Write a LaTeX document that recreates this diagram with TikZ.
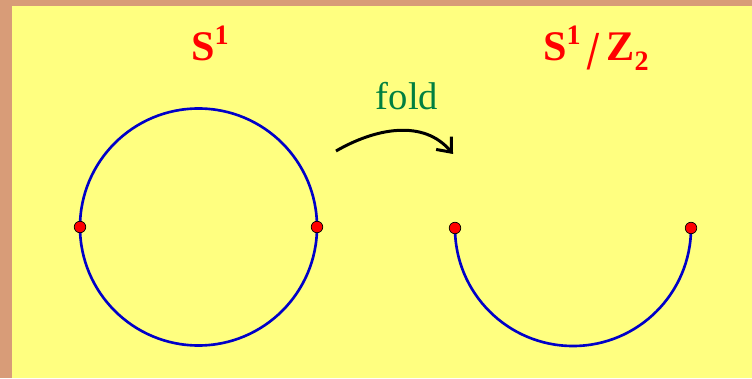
\documentclass[tikz,border=0pt]{standalone}
\usepackage{fontspec}
\setmainfont{Liberation Serif}
\usetikzlibrary{arrows.meta}
\definecolor{tanedge}{HTML}{D89C78}
\definecolor{paper}{HTML}{FFFF80}
\definecolor{circblue}{HTML}{0000C8}
\definecolor{foldgreen}{HTML}{008040}
\newcommand{\upone}[1]{\raisebox{0.4em}{\fontsize{16}{18}\selectfont #1}}
\newcommand{\downone}[1]{\raisebox{-0.22em}{\fontsize{16}{18}\selectfont #1}}
\tikzset{pt/.style={circle, draw=black, line width=0.4pt, fill=red, inner sep=0pt, minimum size=0.23cm},
  curve/.style={circblue, line width=1.5pt},
  title/.style={anchor=base, text=red, font=\fontsize{24}{28}\selectfont\bfseries}}
\begin{document}
\begin{tikzpicture}
      \fill[tanedge] (0,0) rectangle (15.04,7.56);
      \fill[paper] (0.24,0) rectangle (15.04,7.44);
      \useasboundingbox (0,0) rectangle (15.04,7.56);
      \draw[curve] (3.97,3.02) circle (2.37);
      \draw[curve] (9.10,3.00) arc[start angle=180, end angle=360, radius=2.36];
      \node[pt] (leftpt) at (1.60,3.02) {}; \node[pt] (rightpt) at (6.34,3.02)
      {}; \node[pt] (endA) at (9.10,3.00) {}; \node[pt] (endB) at (13.82,3.00) {};
      \node[title] (circlelabel) at (4.2,6.34) {S\upone{1}};
      \node[title] (quotlabel) at (11.92,6.34)
      {S\upone{1}\,\raisebox{-0.2em}{\scalebox{1}[1.3]{/}}\,Z\downone{2}};
      \node[anchor=base, text=foldgreen, font=\fontsize{22}{26}\selectfont] (foldlabel) at (8.14,5.36) {fold};
      \coordinate (foldstart) at (6.72,4.54); \coordinate (foldend) at (9.06,4.48);
      \draw[-{Straight Barb[length=2.4mm, width=4mm]}, line width=1.7pt] (foldstart) to[out=30, in=130] (foldend);
    \end{tikzpicture}
\end{document}
